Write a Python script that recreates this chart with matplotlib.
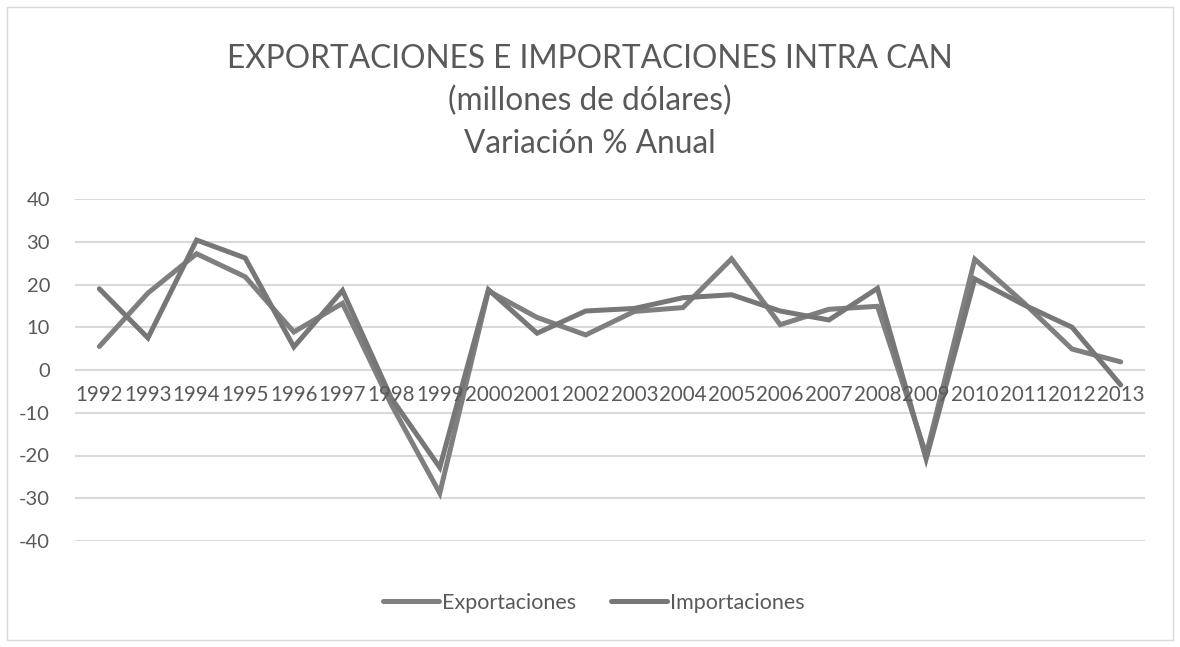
import matplotlib.pyplot as plt
from matplotlib.patches import Rectangle

plt.rcParams['font.family'] = ['Lato', 'DejaVu Sans']

# data
years = [str(y) for y in range(1992, 2014)]
exportaciones = [5.5, 18, 27.2, 21.8, 8.9, 15.6, -8.0, -28.8, 18.5, 12.3, 8.2, 13.7,
                 14.6, 26.0, 10.6, 14.2, 14.9, -19.8, 25.9, 15.8, 4.9, 1.9]
importaciones = [19.0, 7.5, 30.4, 26.2, 5.4, 18.6, -6.5, -22.8, 18.8, 8.6, 13.8, 14.4,
                 16.9, 17.6, 13.8, 11.7, 19.1, -20.8, 21.3, 15.3, 10.0, -3.5]
yticks = [-40, -30, -20, -10, 0, 10, 20, 30, 40]

txt = '#595959'
fig = plt.figure(figsize=(11.8, 6.47), dpi=100)
fig.patches.append(Rectangle((0.006, 0.011), 0.988, 0.978, transform=fig.transFigure,
                             fill=False, edgecolor='#d9d9d9', linewidth=1))

ax = fig.add_axes([75/1180, 1-541/647, 1070/1180, 342/647])
# category labels sit on the zero line (set before the tick labels, it resets ticks)
ax.spines['bottom'].set_position(('data', 0))

# gridlines under the lines, tick labels above them
for v in yticks:
    ax.axhline(v, color='#d9d9d9', linewidth=1.5, zorder=0.5)

x = range(len(years))
ax.plot(x, exportaciones, color='#7f7f7f', linewidth=3.6, solid_capstyle='round',
        solid_joinstyle='miter', label='Exportaciones')
ax.plot(x, importaciones, color='#777777', linewidth=3.6, solid_capstyle='round',
        solid_joinstyle='miter', label='Importaciones')

ax.set_xlim(-0.5, len(years) - 0.5)
ax.set_ylim(-40, 40)
ax.set_yticks(yticks)
ax.set_yticklabels([str(v) for v in yticks], fontsize=14.5, color=txt)
ax.set_axisbelow(False)

ax.set_xticks(list(x))
ax.set_xticklabels(years, fontsize=14.8, color=txt)
for s in ax.spines.values():
    s.set_visible(False)
ax.tick_params(axis='both', length=0)
ax.tick_params(axis='x', pad=11)
ax.tick_params(axis='y', pad=18)

fig.text(0.5, 1-59/647, 'EXPORTACIONES E IMPORTACIONES INTRA CAN', ha='center',
         va='center', fontsize=22.8, color=txt)
fig.text(0.5, 1-101/647, '(millones de dólares)', ha='center', va='center', fontsize=22.8,
         color=txt)
fig.text(0.5, 1-144/647, 'Variación % Anual', ha='center', va='center', fontsize=22.8,
         color=txt)

leg = fig.legend(loc='center', bbox_to_anchor=(594/1180, 1-603/647), ncol=2, frameon=False,
                 fontsize=15.5, labelcolor=txt, handlelength=2.6, handletextpad=0.15,
                 columnspacing=1.6)

fig.savefig('out.png', dpi=100)
